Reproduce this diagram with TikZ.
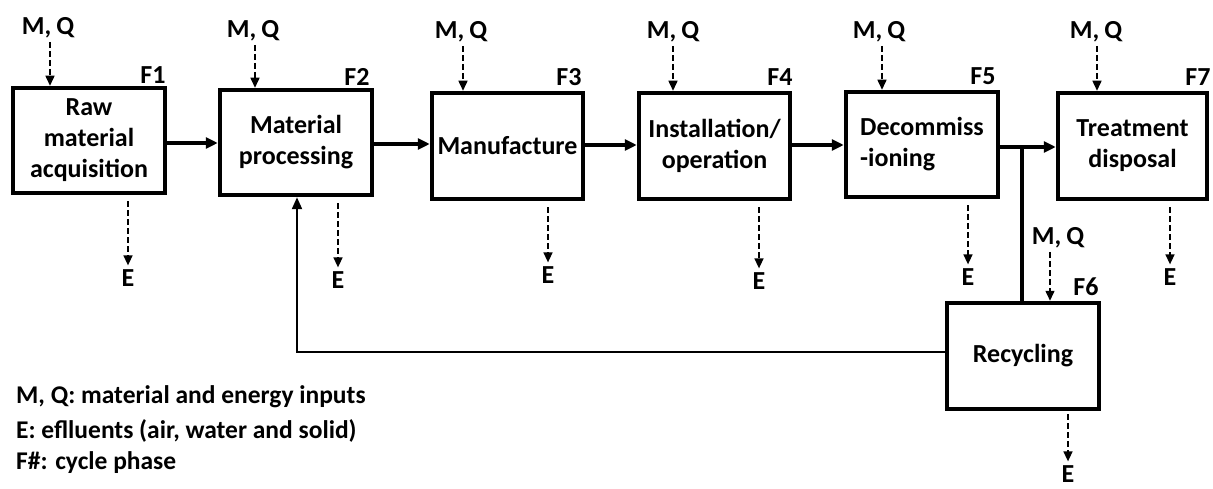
\documentclass[tikz,border=0pt]{standalone}
\usepackage{fontspec}
\setmainfont{Carlito}
\usetikzlibrary{arrows.meta}
\tikzset{
  stage/.style={draw, line width=4.5pt, minimum width=152pt, minimum height=105pt, align=center, inner sep=1pt, font=\fontsize{26}{31}\selectfont\bfseries},
  lbl/.style={font=\fontsize{26}{30}\selectfont\bfseries, inner sep=0pt},
  mainarrow/.style={line width=3.5pt, -{Triangle[length=12pt,width=11pt]}},
  mainline/.style={line width=3.5pt},
  recyc/.style={line width=2.2pt, -{Triangle[length=12pt,width=10pt]}},
  darr/.style={dash pattern=on 6pt off 3pt, line width=1.5pt, -{Triangle[length=10pt,width=9pt]}},
  legend/.style={font=\fontsize{25.5}{30}\selectfont\bfseries, anchor=west, inner sep=0pt}
}
\begin{document}
\begin{tikzpicture}[x=1pt,y=-1pt]
\useasboundingbox (0,0) rectangle (1213,489);
% stages
\node[stage] (F1) at (89,140.5) {Raw\\material\\acquisition};
\node[stage] (F2) at (296,142.5) {Material\\processing};
\node[stage, minimum width=151pt, minimum height=106pt] (F3) at (507.5,146) {Manufacture};
\node[stage, minimum width=151pt, minimum height=106pt] (F4) at (714.5,146) {Installation/\\operation};
\node[stage, align=left] (F5) at (922,144.5) {Decommiss\\-ioning};
\node[stage, minimum width=149pt, minimum height=106pt] (F7) at (1132.5,146) {Treatment\\disposal};
\node[stage, minimum height=106pt] (F6) at (1023,356) {Recycling};
% phase labels
\node[lbl] (l1) at (153,75) {F1};
\node[lbl] (l2) at (357,77) {F2};
\node[lbl] (l3) at (569,77) {F3};
\node[lbl] (l4) at (780,77) {F4};
\node[lbl] (l5) at (983,76) {F5};
\node[lbl] (l7) at (1198,77) {F7};
\node[lbl] (l6) at (1086,287) {F6};
% inputs
\node[lbl] (m1) at (48,28) {M,\hspace{5pt}Q};
\node[lbl] (m2) at (253,31) {M,\hspace{5pt}Q};
\node[lbl] (m3) at (461,32) {M,\hspace{5pt}Q};
\node[lbl] (m4) at (673,32) {M,\hspace{5pt}Q};
\node[lbl] (m5) at (879,32) {M,\hspace{5pt}Q};
\node[lbl] (m7) at (1096,32) {M,\hspace{5pt}Q};
\node[lbl] (m6) at (1058,238) {M,\hspace{5pt}Q};
\coordinate (a1) at (50,42);
\coordinate (a2) at (255,45);
\coordinate (a3) at (463,46);
\coordinate (a4) at (673,46);
\coordinate (a5) at (882,46);
\coordinate (a7) at (1097,46);
\coordinate (a6) at (1050,252);
\draw[darr] (a1) -- (a1 |- F1.north);
\draw[darr] (a2) -- (a2 |- F2.north);
\draw[darr] (a3) -- (a3 |- F3.north);
\draw[darr] (a4) -- (a4 |- F4.north);
\draw[darr] (a5) -- (a5 |- F5.north);
\draw[darr] (a7) -- (a7 |- F7.north);
\draw[darr] (a6) -- (a6 |- F6.north);
% effluents
\node[lbl] (e1) at (128,278) {E};
\node[lbl] (e2) at (338,280) {E};
\node[lbl] (e3) at (548,275) {E};
\node[lbl] (e4) at (759,281) {E};
\node[lbl] (e5) at (968,277) {E};
\node[lbl] (e7) at (1170,277) {E};
\node[lbl] (e6) at (1068,474) {E};
\draw[darr, shorten <=6pt, shorten >=4pt] (F1.south -| e1) -- (e1.north);
\draw[darr, shorten <=6pt, shorten >=4pt] (F2.south -| e2) -- (e2.north);
\draw[darr, shorten <=6pt, shorten >=4pt] (F3.south -| e3) -- (e3.north);
\draw[darr, shorten <=6pt, shorten >=4pt] (F4.south -| e4) -- (e4.north);
\draw[darr, shorten <=6pt, shorten >=4pt] (F5.south -| e5) -- (e5.north);
\draw[darr, shorten <=6pt, shorten >=4pt] (F7.south -| e7) -- (e7.north);
\draw[darr, shorten <=3pt, shorten >=4pt] (F6.south -| e6) -- (e6.north);
% main flow
\draw[mainarrow] (F1.east |- 0,143) -- (F2.west |- 0,143);
\draw[mainarrow] (F2.east |- 0,144) -- (F3.west |- 0,144);
\draw[mainarrow] (F3.east |- 0,145) -- (F4.west |- 0,145);
\draw[mainarrow] (F4.east |- 0,145) -- (F5.west |- 0,145);
\coordinate (J) at (1022,147);
\draw[mainline] (F5.east |- J) -- (J);
\draw[mainarrow] (J) -- (F7.west |- J);
\draw[mainline] (J) -- (J |- F6.north);
% recycling return
\coordinate (R) at (297,352);
\draw[recyc] (F6.west |- R) -- (R) -- (R |- F2.south);
% legend
\node[legend] (t1) at (16,397) {M, Q: material and energy inputs};
\node[legend] (t2) at (16,431) {E: eflluents (air, water and solid)};
\node[legend] (t3) at (16,463) {F\#: cycle phase};
\end{tikzpicture}
\end{document}
